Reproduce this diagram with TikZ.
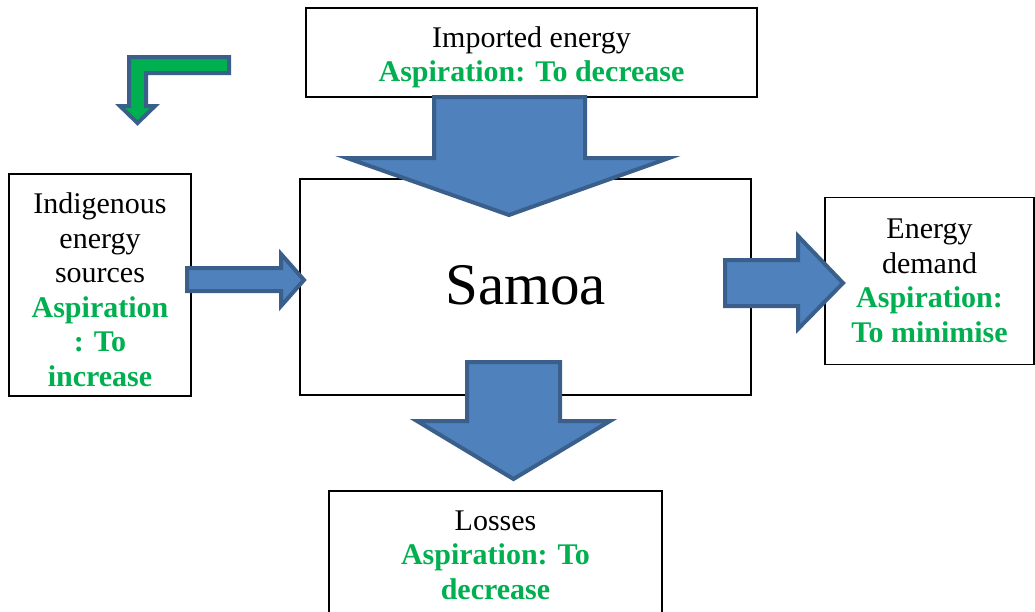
\documentclass[tikz,border=0pt]{standalone}
\usepackage{fontspec}
\setmainfont{Liberation Serif}
\usepackage{xcolor}
\usetikzlibrary{positioning}

\definecolor{aspgreen}{HTML}{00B050}
\definecolor{arrowfill}{HTML}{4F81BD}
\definecolor{arrowline}{HTML}{3A5F8B}
\newcommand{\asp}[1]{\textcolor{aspgreen}{\textbf{#1}}}
% move the lines of a box a little, keeping the box size
\newcommand{\shiftlines}[2]{\raisebox{#1}[\height][\depth]{\begin{tabular}{@{}c@{}}#2\end{tabular}}}

\begin{document}
\begin{tikzpicture}[x=1pt,y=-1pt,
  box/.style={draw,line width=1.5pt,align=center,inner sep=0pt,
    font=\fontsize{30}{34.5}\selectfont},
  blockarrow/.style={fill=arrowfill,draw=arrowline,line width=4pt,line join=miter}]

\useasboundingbox (0,0) rectangle (1035,611);
\clip (0,0) rectangle (1035,611);


% Boxes
\node[box,minimum width=451pt,minimum height=89pt] (imported) at (531.5,52.5)
  {\shiftlines{-5pt}{Imported energy\\ \asp{Aspiration: To decrease}}};
\node[box,minimum width=451pt,minimum height=216pt,font=\fontsize{59}{65}\selectfont] (samoa) at (525.5,287)
  {\raisebox{2pt}[\height][\depth]{Samoa}};
\node[box,minimum width=182pt,minimum height=222pt] (indigenous) at (100,285)
  {\shiftlines{-8pt}{Indigenous\\ energy\\ sources\\ \asp{Aspiration}\\ \asp{: To}\\ \asp{increase}}};
\node[box,minimum width=209pt,minimum height=167pt] (demand) at (929.5,281)
  {Energy\\ demand\\ \asp{Aspiration:}\\ \asp{To minimise}};
\node[box,minimum width=333pt,minimum height=128pt] (losses) at (495.5,555)
  {Losses\\ \asp{Aspiration: To}\\ \asp{decrease}};


% Block arrows: Blue
\path[blockarrow] (434,97) -- (585,97) -- (585,158) -- (669,158) -- (509,215)
  -- (347,158) -- (434,158) -- cycle;
\path[blockarrow] (467,362) -- (560,362) -- (560,421) -- (610,421) -- (513.5,479)
  -- (417,421) -- (467,421) -- cycle;
\path[blockarrow] (187,268) -- (281,268) -- (281,254) -- (304,280) -- (281,306)
  -- (281,291) -- (187,291) -- cycle;
\path[blockarrow] (725,260) -- (798,260) -- (798,236) -- (843,283) -- (798,329)
  -- (798,306) -- (725,306) -- cycle;


% Bent arrow: Green
\path[blockarrow,fill=aspgreen] (229,57) -- (129,57) -- (129,106) -- (120,106)
  -- (137.5,123) -- (155,106) -- (146,106) -- (146,73) -- (229,73) -- cycle;

\end{tikzpicture}
\end{document}
